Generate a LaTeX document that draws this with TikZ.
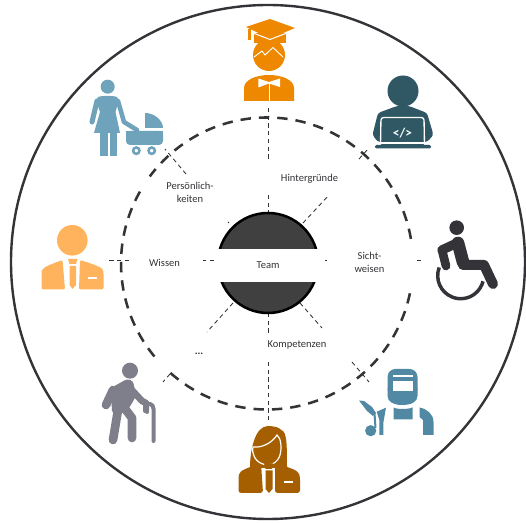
\documentclass[tikz,border=0pt]{standalone}
\usepackage{fontspec}
\setmainfont{Carlito}
\definecolor{ink}{HTML}{333338}
\definecolor{grad}{HTML}{EE8800}
\definecolor{prog}{HTML}{2F5764}
\definecolor{mom}{HTML}{6EA3BB}
\definecolor{man}{HTML}{FFB35C}
\definecolor{old}{HTML}{7F7F8B}
\definecolor{wom}{HTML}{A65F00}
\definecolor{weld}{HTML}{5189A5}
\definecolor{core}{HTML}{404040}
\tikzset{
  ring/.style={draw=ink,line width=1.9pt,dash pattern=on 7.8pt off 6pt},
  spoke/.style={draw=ink,line width=.65pt,dash pattern=on 3.2pt off 2.6pt},
  lab/.style={font=\fontsize{7.9pt}{9.8pt}\selectfont,text=ink,align=center,inner sep=0pt},
  limb/.style={line width=#1,line cap=round,line join=round}
}
\begin{document}
\begin{tikzpicture}[x=.75pt,y=-.75pt]
\useasboundingbox (0,0) rectangle (526,523);
\fill[white] (0,0) rectangle (526,523);
% circles
\draw[ink,line width=1.8pt] (268,262) circle[radius=257];
\draw[ring] (267,263.5)++(-228.6:146) arc[start angle=-228.6,end angle=-350,radius=146];
\draw[ring] (267,263.5)++(-9.7:146) arc[start angle=-9.7,end angle=-143.4,radius=146];
\draw[ring] (267,263.5)++(-150.5:146) arc[start angle=-150.5,end angle=-221,radius=146];
% spoke end points
\coordinate (t1) at (268,108); \coordinate (t2) at (268,160);
\coordinate (t3) at (268,195); \coordinate (t4) at (268,213);
\coordinate (ur1) at (303,223); \coordinate (ur2) at (329,195);
\coordinate (ur3) at (359,159); \coordinate (ur4) at (369,148);
\coordinate (ul1) at (228,222); \coordinate (ul2) at (229,223);
\coordinate (ul3) at (186,174); \coordinate (ul4) at (165,149);
\coordinate (l1) at (214,260); \coordinate (l2) at (203,260);
\coordinate (l3) at (129,260); \coordinate (l4) at (109,260);
\coordinate (r1) at (325,260); \coordinate (r2) at (327,260);
\coordinate (r3) at (417,260); \coordinate (r4) at (423,260);
\coordinate (lr1) at (300,303); \coordinate (lr2) at (322,328);
\coordinate (lr3) at (352,362); \coordinate (lr4) at (369,382);
\coordinate (ll1) at (233,303); \coordinate (ll2) at (207,332);
\coordinate (ll3) at (170,374); \coordinate (ll4) at (163,382);
\coordinate (b1) at (268,313); \coordinate (b2) at (268,335);
\coordinate (b3) at (268,362); \coordinate (b4) at (268,421);
\foreach \a/\b in {t1/t2,t3/t4,ur1/ur2,ur3/ur4,ul1/ul2,ul3/ul4,l1/l2,l3/l4,r1/r2,r3/r4,lr1/lr2,lr3/lr4,ll1/ll2,ll3/ll4,b1/b2,b3/b4}
  \draw[spoke] (\a) -- (\b);
% core
\draw[fill=core,draw=black,line width=1.9pt] (268,263) circle[radius=50];
\fill[white] (215,249) rectangle (323,282);
\node[lab] (team) at (268,265.5) {Team};
\node[lab] (hint) at (309.5,178.5) {Hintergründe};
\node[lab] (pers) at (190,192.5) {Persönlich-\\keiten};
\node[lab] (wiss) at (164.5,262.5) {Wissen};
\node[lab] (sicht) at (369.5,262) {Sicht-\\weisen};
\node[lab] (komp) at (297,344.5) {Kompetenzen};
\node[lab] (dots) at (199,353.5) {\bfseries ...};
% graduate
\fill[grad] (254,33) -- (286,33) -- (286,43) -- (254,43) -- cycle;
\fill[grad] (269,55) circle[radius=16];
\fill[grad] (246,27) -- (270,19) -- (295,28) -- (270,38.5) -- cycle;
\draw[white,line width=.8pt] (253,33) -- (270,39.5) -- (287,33);
\fill[grad] (248,29) rectangle (251,40.5);
\draw[white,line width=.7pt,line join=miter] (254,57) -- (262,51) -- (265,55) -- (273,47.5) -- (283,57);
\fill[grad] (244,101) -- (244,88) .. controls (244,80) and (256,75) .. (269,75) .. controls (282,75) and (294,80) .. (294,88) -- (294,101) -- cycle;
\fill[white] (258.3,78.5) -- (269,82) -- (280,78.5) -- (280,87) -- (269,83.5) -- (258.3,87.5) -- cycle;
\draw[white,line width=.7pt] (269,82) -- (269,102);
% programmer
\fill[prog] (403,91) circle[radius=15.5];
\fill[prog,rounded corners=2pt] (372.5,135) -- (378,113) -- (397,106) -- (409,106) -- (427,113) -- (433.5,135) -- (427,142) -- (378,142) -- cycle;
\draw[white,line width=1pt,fill=prog,rounded corners=2pt] (380.5,145) -- (381,117.5) -- (424,117.5) -- (424.5,145);
\fill[white] (372,142) rectangle (434,144.5);
\fill[prog,rounded corners=1pt] (375,145) rectangle (431,148.5);
\node[text=white,font=\fontsize{10pt}{10pt}\bfseries\selectfont,inner sep=0pt] (code) at (402.5,133) {</>};
% mother
\fill[mom] (107.7,86.7) circle[radius=7];
\fill[mom] (98,97) .. controls (102,95.5) and (113,95.5) .. (117,97) .. controls (119,99) and (118,104) .. (115.5,112) -- (120,133) -- (94,133) -- (100,112) .. controls (97,104) and (96,99) .. (98,97) -- cycle;
\draw[mom,limb=3.8pt] (97,101) -- (92,122);
\draw[mom,limb=3.4pt] (118,101) -- (124,122) -- (137,130);
\fill[mom] (100,133) rectangle (107.5,156);
\fill[mom] (109.5,133) rectangle (116.5,156);
\fill[mom] (145,113) .. controls (155,113) and (163,121) .. (163,128) -- (145,128) -- cycle;
\fill[mom,rounded corners=3pt] (126,131) -- (163,131) -- (163,145) -- (126,145) -- cycle;
\fill[mom] (126,131) rectangle (163,138);
\draw[mom,line width=1.9pt] (136.3,150.7) circle[radius=3.2];
\draw[mom,line width=1.9pt] (151.7,150.7) circle[radius=3.2];
% left man
\fill[man] (72.3,240.3) circle[radius=15.3];
\fill[man,rounded corners=1pt] (41.5,289.5) -- (41.5,273) .. controls (42,268) and (46,266) .. (62.5,260) -- (65,289.5) -- cycle;
\fill[man,rounded corners=1pt] (103.5,289.5) -- (103.5,273) .. controls (103,268) and (99,266) .. (80,260) -- (79,289.5) -- cycle;
\fill[man] (68,259) -- (77.5,259) -- (76,264) -- (69.5,264) -- cycle;
\fill[man] (69.5,266) -- (76,266) -- (76,285) -- (72.5,289) -- (69.5,285) -- cycle;
\fill[white] (87.5,277) rectangle (97,278.7);
% old man
\fill[old] (130,370.7) circle[radius=8];
\fill[old,rounded corners=2pt] (111,388) -- (127,379) -- (133,381) -- (136,396) -- (131,405) -- (125,413) -- (112,413) -- cycle;
\draw[old,limb=6.5pt] (113,390) -- (106,405);
\draw[old,limb=6.5pt] (118,410) -- (113,440);
\draw[old,limb=6.5pt] (126,410) -- (132,418) -- (132,438);
\draw[old,limb=5pt] (130,388) -- (142,401) -- (146,403);
\draw[old,limb=3pt] (145,403) -- (145,411);
\draw[old,line width=3pt,line cap=round] (147,412) -- (147,406) .. controls (147,403) and (153.5,403) .. (153.5,409) -- (153.5,441);
% woman
\fill[wom] (250,468) .. controls (250,450) and (255,426) .. (268,426) .. controls (275,426) and (280,428) .. (281,430) .. controls (287,431) and (287,445) .. (287,468) -- cycle;
\fill[wom,rounded corners=2pt] (238.5,493) -- (238.5,477) .. controls (240,470) and (248,468) .. (261,463) -- (263,493) -- cycle;
\fill[wom,rounded corners=2pt] (300,493) -- (300,477) .. controls (298,470) and (290,468) .. (275,463) -- (275,493) -- cycle;
\draw[white,line width=.9pt,fill=wom] (253,447) .. controls (262,448) and (272,443) .. (277,435) .. controls (281,438) and (282,448) .. (280,455) .. controls (278,462) and (272,465) .. (268,465) .. controls (263,465) and (257,462) .. (255,458) .. controls (253,454) and (252,450) .. (253,447) -- cycle;
\fill[wom] (264,463.5) -- (273.5,463.5) -- (272,469) -- (265.5,469) -- cycle;
\fill[wom] (265.5,470.5) -- (272.5,470.5) -- (272.5,489) -- (269,493) -- (265.5,489) -- cycle;
\fill[white] (283.5,481) rectangle (293,483);
% wheelchair
\fill[ink] (456.7,227.7) circle[radius=7.3];
\draw[ink,limb=7pt] (442,250) -- (457,243);
\draw[ink,limb=6.5pt] (442,250) -- (446,266);
\draw[ink,limb=9.5pt] (458,243) -- (463,262);
\draw[ink,limb=7.5pt] (463,265) -- (484,265) -- (493,284);
\draw[ink,line width=2.6pt] (460.7,275.7)++(201:23) arc[start angle=201,end angle=14,radius=23];
% welder
\fill[weld,rounded corners=6pt] (387.5,369) rectangle (417.5,397);
\fill[weld] (387.5,388) -- (417.5,388) -- (417.5,396) .. controls (417.5,402) and (411,405) .. (402,405) .. controls (394,405) and (387.5,402) .. (387.5,396) -- cycle;
\fill[white] (393,381) rectangle (412.5,391.5);
\fill[white] (393,375.5) rectangle (412.5,377);
\fill[weld] (393.5,407.5) .. controls (397,409.5) and (408,409.5) .. (412.5,407.5) -- (412.5,419.5) -- (393.5,419.5) -- cycle;
\fill[weld] (419.5,407.5) .. controls (427,409) and (433.5,414) .. (433.5,422) -- (433.5,435) -- (423,435) -- (423,420) -- (419.5,417) -- cycle;
\fill[weld] (386,407.7) -- (376.7,411.7) -- (379.3,420) -- (379.3,435) -- (383.3,435) -- (383.3,423) -- cycle;
\fill[weld] (359,400.5) -- (364,401) -- (372,407) -- (376,413) -- (373,416) -- (367,411) -- cycle;
\draw[weld,line width=1.5pt] (374.5,413) -- (375.5,428);
\fill[weld] (370.7,430.7) circle[radius=5.6];
\end{tikzpicture}
\end{document}
